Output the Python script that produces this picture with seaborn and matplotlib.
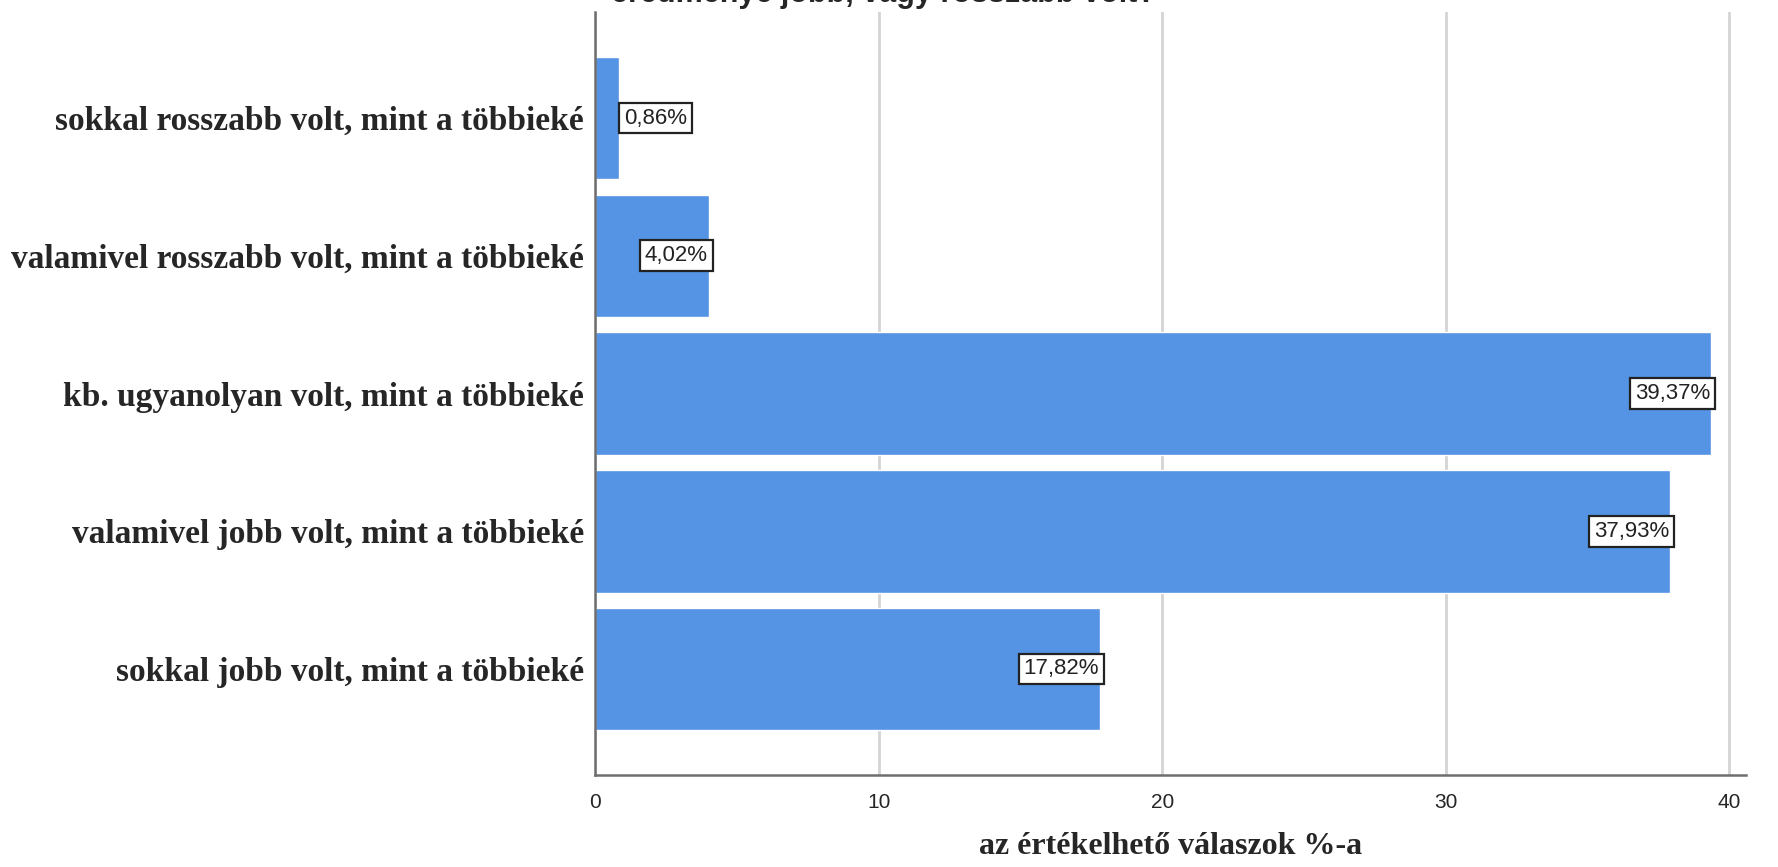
import numpy as np
import pandas as pd
import seaborn as sns
import matplotlib.pyplot as plt

categories = [
    "sokkal rosszabb volt, mint a többieké",
    "valamivel rosszabb volt, mint a többieké",
    "kb. ugyanolyan volt, mint a többieké",
    "valamivel jobb volt, mint a többieké",
    "sokkal jobb volt, mint a többieké",
]
percents = [0.86, 4.02, 39.37, 37.93, 17.82]
x_ticks = [0, 10, 20, 30, 40]

df = pd.DataFrame({"kategoria": categories, "szazalek": percents})

sns.set_style("white")
fig = plt.figure(figsize=(17.78, 8.67), dpi=100)
ax = fig.add_axes([0.3347, 0.1061, 0.6474, 0.880])

sns.barplot(data=df, y="kategoria", x="szazalek", orient="h", color="#5594e4",
            saturation=1, width=0.89, ax=ax, zorder=3)

ax.set_axisbelow(True)
ax.set_xlim(0, 40.6)
ax.set_ylim(4.77, -0.77)
ax.set_xticks(x_ticks)
ax.set_xticklabels([str(t) for t in x_ticks], fontsize=15, family="Liberation Sans")
ax.tick_params(axis="x", length=0, pad=13)
ax.tick_params(axis="y", length=0, pad=8)
for lab in ax.get_yticklabels():
    lab.set_family("Liberation Serif")
    lab.set_fontweight("bold")
    lab.set_fontsize(24)

ax.grid(axis="x", color="#d4d4d4", linewidth=2, zorder=0)
ax.grid(axis="y", visible=False)
for s in ["top", "right"]:
    ax.spines[s].set_visible(False)
for s in ["left", "bottom"]:
    ax.spines[s].set_color("#6e6e6e")
    ax.spines[s].set_linewidth(1.8)
    ax.spines[s].set_zorder(6)

ax.set_ylabel("")
ax.set_xlabel("az értékelhető válaszok %-a", family="Liberation Serif",
              fontweight="bold", fontsize=23, labelpad=14)

for i, v in enumerate(percents):
    txt = f"{v:.2f}%".replace(".", ",")
    if v < 3:
        x, ha = v + 0.15, "left"
    else:
        x, ha = v - 0.05, "right"
    ax.text(x, i, txt, ha=ha, va="center", fontsize=16, family="Liberation Sans",
            color="#222222", zorder=7,
            bbox=dict(boxstyle="square,pad=0.22", facecolor="white",
                      edgecolor="#222222", linewidth=1.6))

# title cut off at the top edge, as in the reference
fig.text(0.497, 0.990, "eredménye jobb, vagy rosszabb volt?", ha="center", va="bottom",
         fontsize=22, fontweight="bold", family="Liberation Sans")

fig.savefig("out.png", dpi=100)
